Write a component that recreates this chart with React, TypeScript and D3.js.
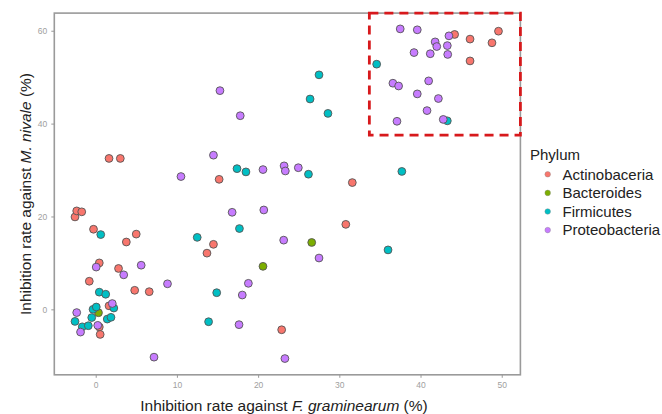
import React, { useEffect, useRef } from "react";
import * as d3 from "d3";

// [x = inhibition vs F. graminearum (%), y = inhibition vs M. nivale (%)]
const actinobacteria: [number, number][] = [
  [1.64, 32.5], [3.03, 32.5], [15.2, 28.0], [-2.55, 19.9], [-2.34, 21.2], [-1.72, 21.0],
  [-0.27, 17.25], [3.77, 14.5], [4.99, 16.2], [0.44, 10.0], [2.81, 8.8], [-0.79, 6.05],
  [4.8, 4.1], [6.59, 3.8], [1.64, 0.75], [0.44, -3.8], [0.55, -5.4], [14.5, 14.0],
  [13.7, 12.1], [22.9, -4.4], [31.6, 27.3], [30.8, 18.3], [44.2, 59.2], [49.6, 59.9],
  [46.1, 58.2], [48.8, 57.4], [46.1, 53.5],
];
const bacteroides: [number, number][] = [
  [0.34, -0.73], [26.6, 14.4], [20.6, 9.26],
];
const firmicutes: [number, number][] = [
  [27.5, 50.5], [26.4, 45.3], [28.6, 42.2], [17.4, 30.3], [18.5, 29.6], [26.2, 29.1],
  [34.6, 52.8], [43.3, 40.6], [37.7, 29.7], [36.0, 12.8], [0.62, 16.1], [0.44, 3.7],
  [1.23, 3.25], [-0.33, 0], [0.07, 0.5], [2.23, 0.28], [-2.55, -2.6], [-0.49, -1.77],
  [-1.66, -3.77], [-0.91, -3.53], [1.42, -2.1], [1.88, -1.72], [12.5, 15.5], [17.7, 17.4],
  [14.9, 3.58], [13.9, -2.67],
];
const proteobacteria: [number, number][] = [
  [15.3, 47.1], [17.8, 41.7], [14.5, 33.2], [10.5, 28.6], [20.6, 30.1], [23.2, 30.9],
  [23.35, 29.8], [24.95, 30.5], [37.5, 60.4], [39.6, 60.2], [43.5, 58.9], [41.8, 57.6],
  [42.0, 56.6], [43.3, 56.8], [39.2, 55.3], [41.2, 55.05], [43.35, 54.9], [36.6, 48.7],
  [37.3, 48.1], [41.0, 49.2], [39.6, 46.4], [42.2, 45.4], [40.8, 42.8], [37.1, 40.5],
  [42.8, 40.9], [16.8, 20.9], [20.7, 21.4], [23.15, 14.9], [27.5, 11.05], [18.8, 5.6],
  [18.05, 3.08], [17.65, -3.3], [23.3, -10.6], [7.18, -10.3], [0.06, 9.1], [3.45, 7.43],
  [5.6, 9.5], [8.84, 5.5], [2.04, 1.25], [-2.34, -0.7], [-1.87, -4.9], [0.25, -3.45],
];

const phyla = ["Actinobaceria", "Bacteroides", "Firmicutes", "Proteobacteria"];
const phylumData = [actinobacteria, bacteroides, firmicutes, proteobacteria];
const colors = ["#F8766D", "#7CAE00", "#00BFC4", "#C77CFF"];
const xTicks = [0, 10, 20, 30, 40, 50];
const yTicks = [0, 20, 40, 60];
// highlighted region (lower-left corner of the dashed box)
const boxCorner: [number, number] = [33.7, 37.5];

export default function App() {
  const svgRef = useRef<SVGSVGElement>(null);

  useEffect(() => {
    const svg = d3.select(svgRef.current);
    svg.selectAll("*").remove();

    const font = "Arial, 'Liberation Sans', sans-serif";
    const x = d3.scaleLinear().domain([-5.1, 52.3]).range([54.3, 520.4]);
    const y = d3.scaleLinear().domain([-14.1, 63.8]).range([374.8, 13.1]);

    // points, drawn per phylum
    phylumData.forEach((pts, i) => {
      svg.append("g")
        .selectAll("circle")
        .data(pts)
        .join("circle")
        .attr("cx", d => x(d[0]))
        .attr("cy", d => y(d[1]))
        .attr("r", 3.9)
        .attr("fill", colors[i])
        .attr("stroke", "#555")
        .attr("stroke-width", 0.9);
    });

    // panel border
    svg.append("rect")
      .attr("x", x.range()[0])
      .attr("y", y.range()[1])
      .attr("width", x.range()[1] - x.range()[0])
      .attr("height", y.range()[0] - y.range()[1])
      .attr("fill", "none")
      .attr("stroke", "#9a9a9a")
      .attr("stroke-width", 1.6);

    // dashed box
    svg.append("rect")
      .attr("x", x(boxCorner[0]))
      .attr("y", y.range()[1])
      .attr("width", x.range()[1] - x(boxCorner[0]))
      .attr("height", y(boxCorner[1]) - y.range()[1])
      .attr("fill", "none")
      .attr("stroke", "#D7191C")
      .attr("stroke-width", 2.8)
      .attr("stroke-dasharray", "9,6");

    // axes
    const xAxis = svg.append("g")
      .attr("transform", `translate(0,${y.range()[0]})`)
      .call(d3.axisBottom(x).tickValues(xTicks).tickSize(3).tickPadding(4).tickSizeOuter(0));
    const yAxis = svg.append("g")
      .attr("transform", `translate(${x.range()[0]},0)`)
      .call(d3.axisLeft(y).tickValues(yTicks).tickSize(3).tickPadding(4).tickSizeOuter(0));
    [xAxis, yAxis].forEach(a => {
      a.select(".domain").remove();
      a.selectAll("line").attr("stroke", "#999");
      a.selectAll("text")
        .attr("fill", "#a0a0a0")
        .style("font-family", font)
        .style("font-size", "8.5px");
    });

    // axis titles
    const xt = svg.append("text")
      .attr("x", 284)
      .attr("y", 411)
      .attr("text-anchor", "middle")
      .style("font-family", font)
      .style("font-size", "15.5px")
      .attr("fill", "#222");
    xt.append("tspan").text("Inhibition rate against ");
    xt.append("tspan").style("font-style", "italic").text("F. graminearum");
    xt.append("tspan").text(" (%)");

    const yt = svg.append("text")
      .attr("transform", `translate(30.5,194) rotate(-90)`)
      .attr("text-anchor", "middle")
      .style("font-family", font)
      .style("font-size", "15.5px")
      .attr("fill", "#222");
    yt.append("tspan").text("Inhibition rate against ");
    yt.append("tspan").style("font-style", "italic").text("M. nivale");
    yt.append("tspan").text(" (%)");

    // legend
    const lg = svg.append("g").attr("transform", "translate(530,0)");
    lg.append("text")
      .attr("x", 0)
      .attr("y", 159.5)
      .style("font-family", font)
      .style("font-size", "15px")
      .attr("fill", "#222")
      .text("Phylum");
    phyla.forEach((p, i) => {
      const cy = 174.3 + i * 18.6;
      lg.append("circle")
        .attr("cx", 17.7)
        .attr("cy", cy)
        .attr("r", 2.8)
        .attr("fill", colors[i])
        .attr("stroke", "#888")
        .attr("stroke-width", 0.4);
      lg.append("text")
        .attr("x", 32.5)
        .attr("y", cy + 5.2)
        .style("font-family", font)
        .style("font-size", "15px")
        .attr("fill", "#222")
        .text(p);
    });
  }, []);

  return (
    <div style={{ position: "fixed", left: 0, top: 0, width: 662, height: 414, background: "#fff" }}>
      <svg ref={svgRef} width={662} height={414}></svg>
    </div>
  );
}
